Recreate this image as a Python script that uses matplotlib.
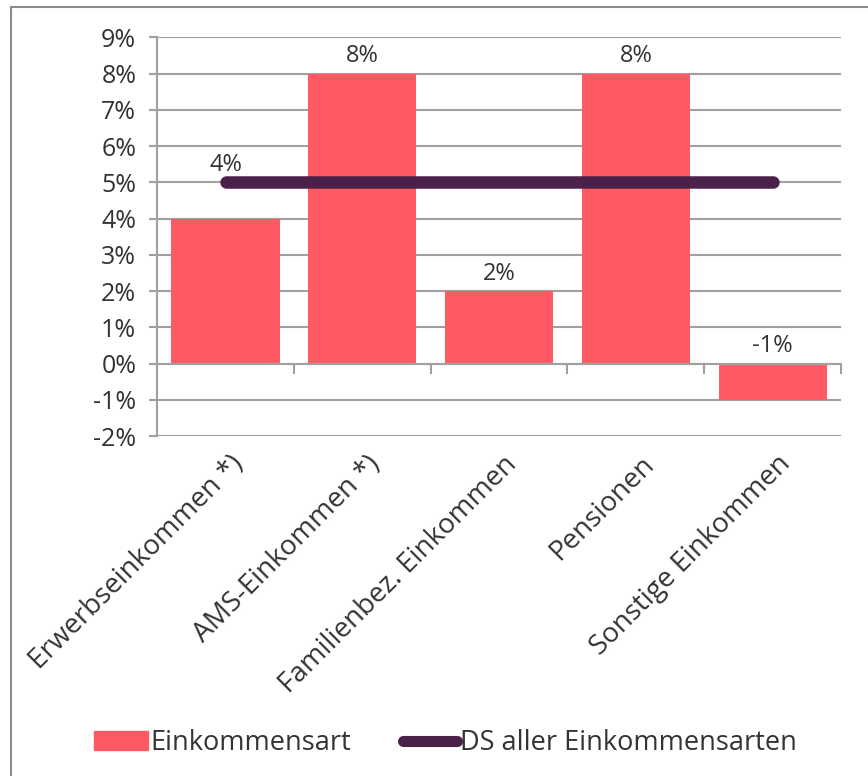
import numpy as np
import matplotlib
matplotlib.use("Agg")
import matplotlib.pyplot as plt
from matplotlib.lines import Line2D
from matplotlib.patches import Patch, Rectangle
from matplotlib.transforms import blended_transform_factory

plt.rcParams['font.family'] = ['Open Sans', 'DejaVu Sans']

# Daten
kategorien = ["Erwerbseinkommen *)", "AMS-Einkommen *)", "Familienbez. Einkommen",
              "Pensionen", "Sonstige Einkommen"]
werte = [4, 8, 2, 8, -1]
durchschnitt = 5
y_ticks = list(range(-2, 10))

bar_farbe = "#FF5A64"
linie_farbe = "#4A2148"
grid_farbe = "#A0A0A0"
text_farbe = "#333333"

fig = plt.figure(figsize=(8.68, 7.76), dpi=100)
ax = fig.add_axes([0.181, 0.438, 0.788, 0.514])

x = np.arange(len(kategorien))
ax.bar(x, werte, width=0.79, color=bar_farbe, zorder=2)
ax.plot([x[0], x[-1]], [durchschnitt, durchschnitt], color=linie_farbe, lw=9,
        solid_capstyle="round", zorder=3)

# Datenbeschriftungen
for xi, v in zip(x, werte):
    y = max(v, 0)
    if abs(y - durchschnitt) < 1.2:
        y = durchschnitt
    ax.annotate(f"{v}%", (xi, y), xytext=(0, 4), textcoords="offset points",
                ha="center", va="bottom", fontsize=17, color=text_farbe)

ax.set_xlim(-0.5, len(kategorien) - 0.5)
ax.set_ylim(y_ticks[0], y_ticks[-1])
ax.set_yticks(y_ticks)
ax.set_yticklabels([f"{t}%" for t in y_ticks], fontsize=18, color=text_farbe)
ax.yaxis.grid(True, color=grid_farbe, lw=1.5, zorder=0)
ax.set_axisbelow(True)
ax.tick_params(axis="y", length=6, width=1.5, color=grid_farbe, pad=9)

for s in ["top", "right"]:
    ax.spines[s].set_visible(False)
ax.spines["left"].set_color(grid_farbe)
ax.spines["left"].set_linewidth(1.5)
ax.spines["bottom"].set_position(("data", 0))
ax.spines["bottom"].set_color(grid_farbe)
ax.spines["bottom"].set_linewidth(1.5)

# Kategorie-Trennstriche an der Nulllinie
ax.set_xticks(np.arange(len(kategorien) + 1) - 0.5)
ax.set_xticklabels([])
ax.tick_params(axis="x", length=7, width=1.5, color=grid_farbe, direction="out")

trans = blended_transform_factory(ax.transData, ax.transAxes)
for xi, name in zip(x, kategorien):
    ax.text(xi + 0.03, -0.035, name, transform=trans, rotation=45, ha="right", va="top",
            rotation_mode="anchor", fontsize=20, color=text_farbe)

# Legende
handles = [Patch(color=bar_farbe, label="Einkommensart"),
           Line2D([0], [0], color=linie_farbe, lw=8, solid_capstyle="round",
                  label="DS aller Einkommensarten")]
fig.legend(handles=handles, loc="center", bbox_to_anchor=(0.513, 0.042), ncol=2,
           frameon=False, fontsize=19.5, handlelength=2.0, handletextpad=0.1,
           columnspacing=1.9, labelcolor=text_farbe)

# Rahmen
fig.patches.append(Rectangle((11 / 868, -0.1), 1.0, 1.1 - 7 / 776, transform=fig.transFigure,
                             fill=False, edgecolor="#8C8C8C", lw=1.5))

fig.savefig("out.png", dpi=100)
